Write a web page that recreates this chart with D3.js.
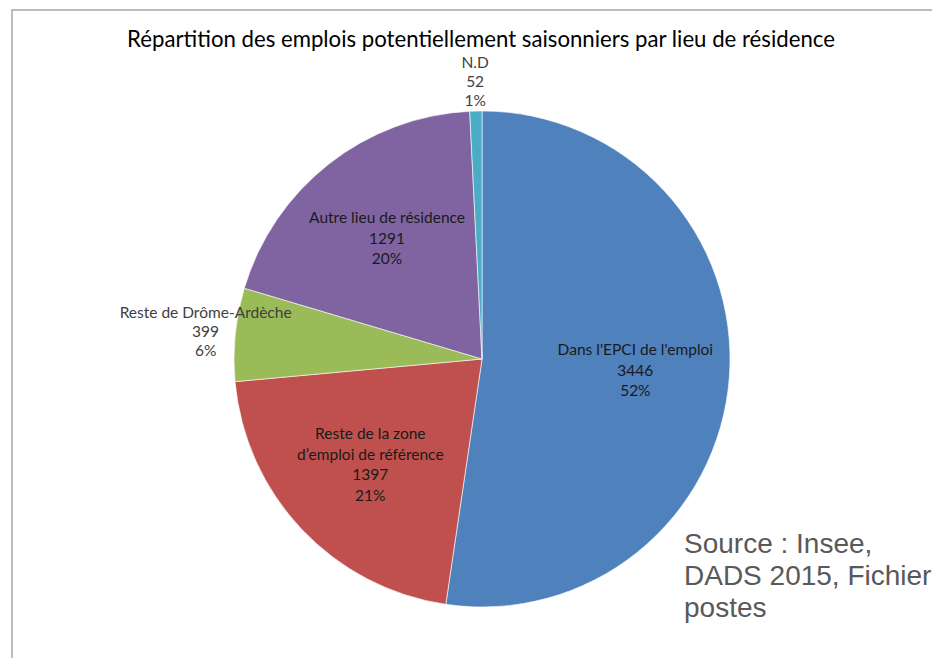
<!DOCTYPE html>
<html><head><meta charset="utf-8">
<script src="https://cdn.jsdelivr.net/npm/d3@7"></script>
<style>html,body{margin:0;padding:0;background:#fff;overflow:hidden;}svg{display:block;}</style>
</head><body>
<svg id="chart" width="932" height="658"></svg>
<script>
const title = "Répartition des emplois potentiellement saisonniers par lieu de résidence";
const categories = ["Dans l'EPCI de l'emploi", "Reste de la zone|d’emploi de référence", "Reste de Drôme-Ardèche", "Autre lieu de résidence", "N.D"];
const values = [3446, 1397, 399, 1291, 52];
const percents = ["52%", "21%", "6%", "20%", "1%"];
const colors = ["#4F81BD", "#C0504D", "#9BBB59", "#8064A2", "#4BACC6"];
const sourceLines = ["Source : Insee,", "DADS 2015, Fichier", "postes"];

const svg = d3.select("#chart");
const W = 932, H = 658;
const cx = 482, cy = 359, R = 248;

// frame
svg.append("path").attr("d", `M12,${H} L12,10 L${W},10`).attr("fill","none").attr("stroke","#a6a6a6").attr("stroke-width",1.5);

svg.append("text").attr("x", 481).attr("y", 47).attr("text-anchor","middle")
  .attr("font-family","Lato, 'Open Sans', sans-serif").attr("font-size",22.2).attr("fill","#000").text(title);

const data = categories.map((c,i)=>({cat:c, value:values[i], pct:percents[i], color:colors[i]}));
const pie = d3.pie().value(d=>d.value).sort(null);
const arcs = pie(data);
const arc = d3.arc().innerRadius(0).outerRadius(R);
const total = d3.sum(values);

const g = svg.append("g").attr("transform",`translate(${cx},${cy})`);
g.selectAll("path").data(arcs).enter().append("path")
  .attr("d", arc).attr("fill", d=>d.data.color).attr("stroke","#fff").attr("stroke-width",0.6);

const inArc = d3.arc().innerRadius(R*1.24).outerRadius(0);
const outArc = d3.arc().innerRadius(R*1.12).outerRadius(R*1.12);
const lbl = g.selectAll("g.lbl").data(arcs).enter().append("g").attr("class","lbl")
  .attr("transform", d=>{
    const small = d.data.value/total < 0.1;
    const c = small ? outArc.centroid(d) : inArc.centroid(d);
    return `translate(${c[0]},${c[1]})`;
  });
lbl.each(function(d){
  const small = d.data.value/total < 0.1;
  const lines = d.data.cat.split("|").concat([String(d.data.value), d.data.pct]);
  const lh = small ? 19 : 20.5;
  const t = d3.select(this).append("text").attr("text-anchor","middle")
    .attr("font-family","Lato, 'Open Sans', sans-serif").attr("font-size",15.5)
    .attr("fill", small ? "#404040" : "#1a1a1a");
  const n = lines.length;
  lines.forEach((s,i)=>{
    t.append("tspan").attr("x",0).attr("y", (i-(n-1)/2)*lh + 5.5).text(s);
  });
});

const src = svg.append("text").attr("font-family","'Liberation Sans', Arial, sans-serif").attr("font-size",28).attr("fill","#595959");
sourceLines.forEach((s,i)=>{
  src.append("tspan").attr("x",684).attr("y",553 + i*32).text(s);
});
</script>
</body></html>
